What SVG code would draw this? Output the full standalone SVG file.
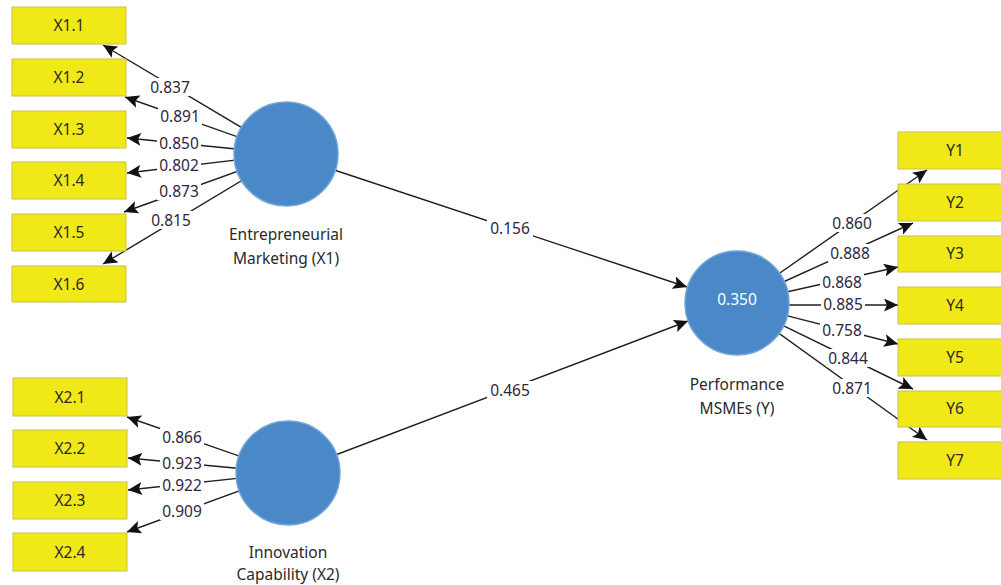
<svg xmlns="http://www.w3.org/2000/svg" width="1001" height="585" viewBox="0 0 1001 585">
<style>
text{font-family:"Noto Sans","Open Sans","Liberation Sans",sans-serif;font-size:15.5px;text-anchor:middle;fill:#2a2a2a}
.box rect{fill:#f0e817;stroke:#c9c24a;stroke-width:1}
.lv circle{fill:#4a88c7;stroke:#73a6da;stroke-width:1.5}
.conn line{stroke:#1e1e1e;stroke-width:1.4}
.lbl rect{fill:#fff}
.lbl text{fill:#2d2640}
text.w{fill:#ffffff}
</style>
<defs>
<marker id="ah" markerUnits="userSpaceOnUse" markerWidth="15" markerHeight="13" refX="14" refY="6.5" orient="auto">
<path d="M0,0 L14,6.5 L0,13 L3,6.5 z" fill="#111"/>
</marker>
</defs>
<g id="connectors" class="conn">
<line x1="286" y1="154" x2="103" y2="45" marker-end="url(#ah)"/>
<line x1="286" y1="154" x2="125" y2="97" marker-end="url(#ah)"/>
<line x1="286" y1="154" x2="127" y2="138" marker-end="url(#ah)"/>
<line x1="286" y1="154" x2="127" y2="173" marker-end="url(#ah)"/>
<line x1="286" y1="154" x2="124" y2="212" marker-end="url(#ah)"/>
<line x1="286" y1="154" x2="103" y2="264" marker-end="url(#ah)"/>
<line x1="288" y1="473" x2="127" y2="417" marker-end="url(#ah)"/>
<line x1="288" y1="473" x2="128" y2="458" marker-end="url(#ah)"/>
<line x1="288" y1="473" x2="128" y2="490" marker-end="url(#ah)"/>
<line x1="288" y1="473" x2="127" y2="532" marker-end="url(#ah)"/>
<line x1="737" y1="303" x2="927" y2="170" marker-end="url(#ah)"/>
<line x1="737" y1="303" x2="913" y2="223" marker-end="url(#ah)"/>
<line x1="737" y1="303" x2="898" y2="267" marker-end="url(#ah)"/>
<line x1="737" y1="305" x2="898" y2="305" marker-end="url(#ah)"/>
<line x1="737" y1="303" x2="898" y2="344" marker-end="url(#ah)"/>
<line x1="737" y1="303" x2="913" y2="389" marker-end="url(#ah)"/>
<line x1="737" y1="303" x2="927" y2="440" marker-end="url(#ah)"/>
<line x1="286" y1="154" x2="687" y2="287" marker-end="url(#ah)"/>
<line x1="288" y1="473" x2="688" y2="321" marker-end="url(#ah)"/>
</g>
<g id="labels" class="lbl">
<rect x="148" y="78" width="44" height="18"/>
<rect x="158" y="107" width="44" height="18"/>
<rect x="157" y="134" width="44" height="18"/>
<rect x="157" y="156" width="44" height="18"/>
<rect x="157" y="182" width="44" height="18"/>
<rect x="149" y="211" width="44" height="18"/>
<rect x="160" y="428" width="44" height="18"/>
<rect x="160" y="454" width="44" height="18"/>
<rect x="160" y="476" width="44" height="18"/>
<rect x="160" y="502" width="44" height="18"/>
<rect x="830" y="214" width="44" height="18"/>
<rect x="828" y="244" width="44" height="18"/>
<rect x="820" y="273" width="44" height="18"/>
<rect x="821" y="295" width="44" height="18"/>
<rect x="820" y="321" width="44" height="18"/>
<rect x="826" y="349" width="44" height="18"/>
<rect x="830" y="379" width="44" height="18"/>
<rect x="487" y="219" width="46" height="18"/>
<rect x="487" y="381" width="46" height="18"/>
<text x="170" y="93">0.837</text>
<text x="180" y="122">0.891</text>
<text x="179" y="149">0.850</text>
<text x="179" y="171">0.802</text>
<text x="179" y="197">0.873</text>
<text x="171" y="226">0.815</text>
<text x="182" y="443">0.866</text>
<text x="182" y="469">0.923</text>
<text x="182" y="491">0.922</text>
<text x="182" y="517">0.909</text>
<text x="852" y="229">0.860</text>
<text x="850" y="259">0.888</text>
<text x="842" y="288">0.868</text>
<text x="843" y="310">0.885</text>
<text x="842" y="336">0.758</text>
<text x="848" y="364">0.844</text>
<text x="852" y="394">0.871</text>
<text x="510" y="234">0.156</text>
<text x="510" y="396">0.465</text>
</g>
<g id="X1.1" class="box"><rect x="12" y="7" width="114" height="37"/><text x="69" y="31">X1.1</text></g>
<g id="X1.2" class="box"><rect x="12" y="59" width="114" height="37"/><text x="69" y="83">X1.2</text></g>
<g id="X1.3" class="box"><rect x="12" y="111" width="114" height="37"/><text x="69" y="135">X1.3</text></g>
<g id="X1.4" class="box"><rect x="12" y="162" width="114" height="37"/><text x="69" y="186">X1.4</text></g>
<g id="X1.5" class="box"><rect x="12" y="214" width="114" height="37"/><text x="69" y="238">X1.5</text></g>
<g id="X1.6" class="box"><rect x="12" y="266" width="114" height="36"/><text x="69" y="290">X1.6</text></g>
<g id="X2.1" class="box"><rect x="13" y="378" width="114" height="38"/><text x="70" y="403">X2.1</text></g>
<g id="X2.2" class="box"><rect x="13" y="430" width="114" height="37"/><text x="70" y="454">X2.2</text></g>
<g id="X2.3" class="box"><rect x="13" y="482" width="114" height="37"/><text x="70" y="506">X2.3</text></g>
<g id="X2.4" class="box"><rect x="13" y="533" width="114" height="38"/><text x="70" y="558">X2.4</text></g>
<g id="Y1" class="box"><rect x="898" y="132" width="114" height="37"/><text x="955" y="156">Y1</text></g>
<g id="Y2" class="box"><rect x="898" y="184" width="114" height="37"/><text x="955" y="208">Y2</text></g>
<g id="Y3" class="box"><rect x="898" y="236" width="114" height="36"/><text x="955" y="259">Y3</text></g>
<g id="Y4" class="box"><rect x="898" y="287" width="114" height="37"/><text x="955" y="311">Y4</text></g>
<g id="Y5" class="box"><rect x="898" y="339" width="114" height="37"/><text x="955" y="363">Y5</text></g>
<g id="Y6" class="box"><rect x="898" y="391" width="114" height="36"/><text x="955" y="414">Y6</text></g>
<g id="Y7" class="box"><rect x="898" y="442" width="114" height="37"/><text x="955" y="466">Y7</text></g>
<g id="X1" class="lv"><circle cx="286" cy="154" r="52"/><text x="286" y="240">Entrepreneurial</text><text x="286" y="264">Marketing (X1)</text></g>
<g id="X2" class="lv"><circle cx="288" cy="473" r="52"/><text x="288" y="558">Innovation</text><text x="288" y="580">Capability (X2)</text></g>
<g id="Y" class="lv"><circle cx="737" cy="303" r="52"/><text class="w" x="737" y="305">0.350</text><text x="737" y="390">Performance</text><text x="737" y="414">MSMEs (Y)</text></g>
</svg>
